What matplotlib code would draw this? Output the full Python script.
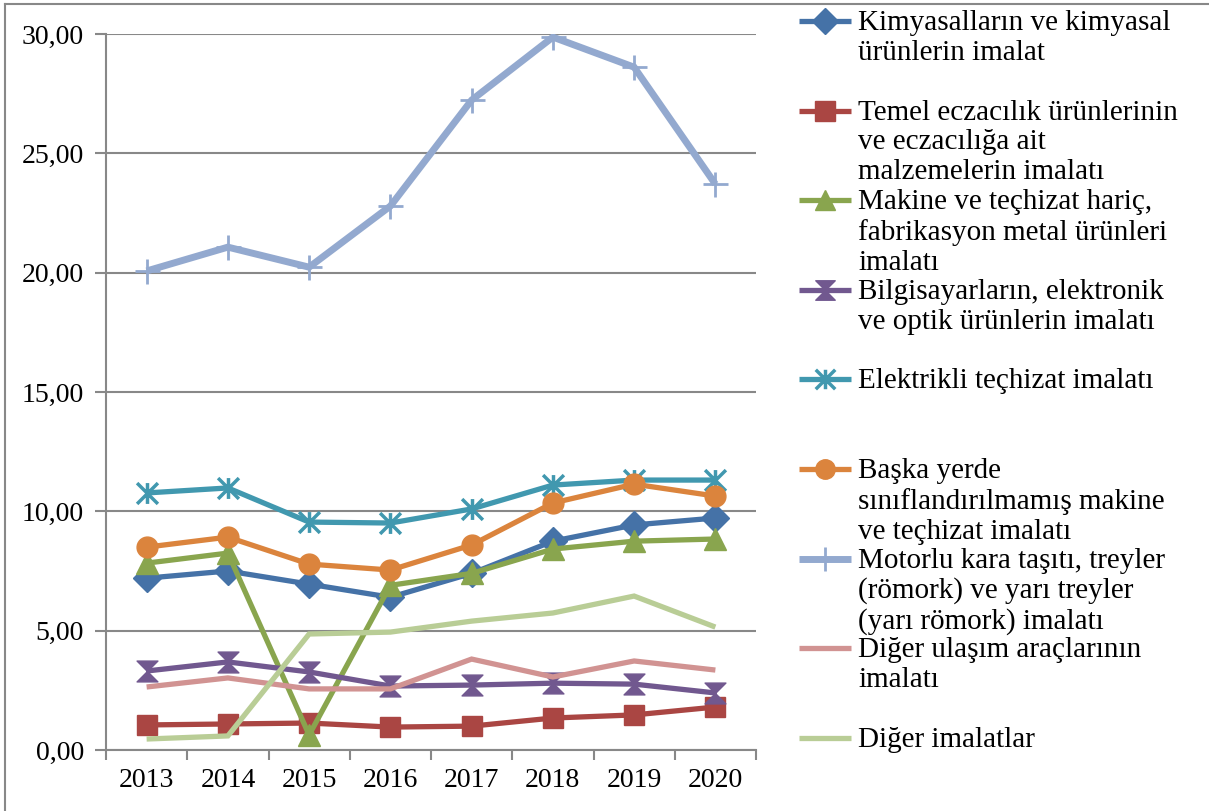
import matplotlib.pyplot as plt
import numpy as np
from matplotlib.lines import Line2D
from matplotlib.path import Path

plt.rcParams['font.family'] = ['Liberation Serif', 'DejaVu Serif']

years = ['2013', '2014', '2015', '2016', '2017', '2018', '2019', '2020']

kimyasal = [7.20, 7.50, 6.95, 6.40, 7.40, 8.75, 9.43, 9.72]
eczacilik = [1.05, 1.09, 1.13, 0.96, 1.00, 1.34, 1.47, 1.80]
makine_haric = [7.83, 8.25, 0.63, 6.90, 7.40, 8.42, 8.75, 8.84]
bilgisayar = [3.31, 3.69, 3.27, 2.68, 2.72, 2.80, 2.76, 2.39]
elektrikli = [10.77, 10.98, 9.55, 9.51, 10.10, 11.10, 11.31, 11.31]
baska_yerde = [8.50, 8.92, 7.79, 7.54, 8.59, 10.35, 11.14, 10.64]
motorlu = [20.07, 21.07, 20.23, 22.79, 27.23, 29.87, 28.61, 23.71]
diger_ulasim = [2.64, 3.02, 2.56, 2.56, 3.81, 3.06, 3.73, 3.35]
diger_imalat = [0.46, 0.59, 4.86, 4.94, 5.40, 5.74, 6.45, 5.15]

labels = [
    'Kimyasalların ve kimyasal\nürünlerin imalat',
    'Temel eczacılık ürünlerinin\nve eczacılığa ait\nmalzemelerin imalatı',
    'Makine ve teçhizat hariç,\nfabrikasyon metal ürünleri\nimalatı',
    'Bilgisayarların, elektronik\nve optik ürünlerin imalatı',
    'Elektrikli teçhizat imalatı',
    'Başka yerde\nsınıflandırılmamış makine\nve teçhizat imalatı',
    'Motorlu kara taşıtı, treyler\n(römork) ve yarı treyler\n(yarı römork) imalatı',
    'Diğer ulaşım araçlarının\nimalatı',
    'Diğer imalatlar',
]

# marker sekilleri (Excel tarzi)
hourglass = Path([(-1, 1), (1, 1), (-1, -1), (1, -1), (-1, 1)],
                 [Path.MOVETO, Path.LINETO, Path.LINETO, Path.LINETO, Path.CLOSEPOLY])
asterisk = Path([(-1, -1), (1, 1), (-1, 1), (1, -1), (0, -1), (0, 1)],
                [Path.MOVETO, Path.LINETO, Path.MOVETO, Path.LINETO, Path.MOVETO, Path.LINETO])

series = [
    (kimyasal, '#4572A7', 'D', 14, 3.8),
    (eczacilik, '#AA4643', 's', 15, 3.8),
    (makine_haric, '#89A54E', '^', 16, 3.8),
    (bilgisayar, '#71588F', hourglass, 15, 3.8),
    (elektrikli, '#4198AF', asterisk, 15, 3.8),
    (baska_yerde, '#DB843D', 'o', 15, 3.8),
    (motorlu, '#93A9CF', '+', 18, 5.0),
    (diger_ulasim, '#D19392', None, 0, 3.8),
    (diger_imalat, '#B9CD96', None, 0, 3.8),
]


def edge_width(mk):
    if mk == '+':
        return 2.0
    if mk is asterisk:
        return 2.5
    return 1


W, H = 1209, 811
fig = plt.figure(figsize=(W / 100, H / 100), dpi=100)
ax = fig.add_axes([106 / W, 1 - 750 / H, 650 / W, 716 / H])

x = np.arange(len(years))
for vals, col, mk, ms, lw in series:
    ax.plot(x, vals, color=col, lw=lw, marker=mk, ms=ms, mec=col, mfc=col,
            mew=edge_width(mk), solid_joinstyle='miter', solid_capstyle='butt')

grid_col = '#888888'
ax.set_xlim(-0.5, len(years) - 0.5)
ax.set_ylim(0, 30)
ax.set_yticks(np.arange(0, 31, 5))
ax.set_yticklabels(['0,00', '5,00', '10,00', '15,00', '20,00', '25,00', '30,00'])
ax.set_xticks(np.arange(-0.5, len(years)), labels=[''] * (len(years) + 1))
ax.set_xticks(x, minor=True)
ax.set_xticklabels(years, minor=True)
ax.tick_params(axis='y', length=8, width=1.5, color=grid_col, pad=8, labelsize=20)
ax.tick_params(axis='x', which='major', length=7, width=1.5, color=grid_col)
ax.tick_params(axis='x', which='minor', length=0, pad=13, labelsize=20)
ax.yaxis.grid(True, color=grid_col, lw=1.5)
ax.set_axisbelow(True)
for s in ['top', 'right']:
    ax.spines[s].set_visible(False)
for s in ['left', 'bottom']:
    ax.spines[s].set_color(grid_col)
    ax.spines[s].set_linewidth(1.5)

# legend elle cizildi: tutamak ilk satir ile hizali
for i, (lab, (vals, col, mk, ms, lw)) in enumerate(zip(labels, series)):
    yp = 21 + i * 89.6
    yf = 1 - yp / H
    fig.add_artist(Line2D([799 / W, 851 / W], [yf, yf], color=col, lw=lw,
                          solid_capstyle='butt', transform=fig.transFigure))
    if mk is not None:
        fig.add_artist(Line2D([825 / W], [yf], marker=mk, ms=ms - 1, color=col,
                              mec=col, mfc=col, mew=edge_width(mk),
                              transform=fig.transFigure))
    fig.text(858 / W, 1 - (yp - 11) / H, lab, ha='left', va='top',
             fontsize=21, linespacing=1.19)

# cerceve
fig.add_artist(Line2D([5 / W, 5 / W], [0, 1 - 4 / H], color=grid_col, lw=1.5,
                      transform=fig.transFigure))
fig.add_artist(Line2D([5 / W, 1], [1 - 4 / H, 1 - 4 / H], color=grid_col, lw=1.5,
                      transform=fig.transFigure))

fig.savefig('out.png', dpi=100)
